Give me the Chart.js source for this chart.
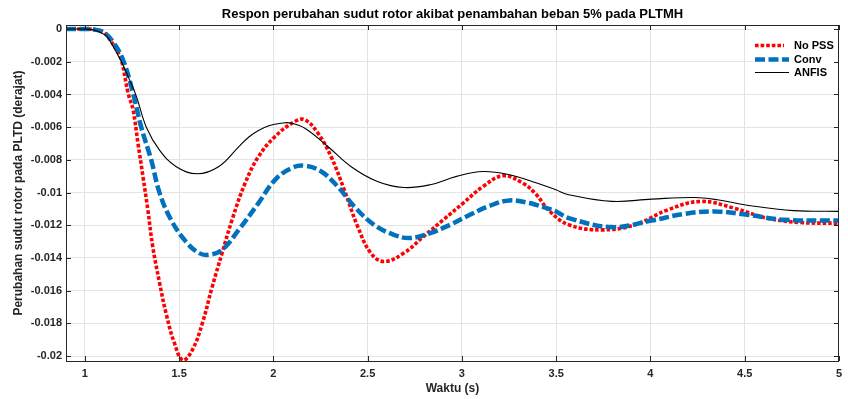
<!DOCTYPE html>
<html>
<head>
<meta charset="utf-8">
<script src="https://cdn.jsdelivr.net/npm/chart.js@4/dist/chart.umd.min.js"></script>
<style>
  html, body { margin: 0; padding: 0; background: #ffffff; }
  #wrap { width: 848px; height: 399px; position: relative; }
</style>
</head>
<body>
<div id="wrap"><canvas id="c" width="848" height="399"></canvas></div>
<script>
// ---------- data ----------
const titleText = 'Respon perubahan sudut rotor akibat penambahan beban 5% pada PLTMH';
const xLabel = 'Waktu (s)';
const yLabel = 'Perubahan sudut rotor pada PLTD (derajat)';
const seriesNames = ['No PSS', 'Conv', 'ANFIS'];

const xTickValues = [1, 1.5, 2, 2.5, 3, 3.5, 4, 4.5, 5];
const yTickValues = [0, -0.002, -0.004, -0.006, -0.008, -0.01, -0.012, -0.014, -0.016, -0.018, -0.02];

const noPssT = [0.9, 1.0, 1.05, 1.1, 1.133, 1.168, 1.194, 1.229, 1.255, 1.282, 1.308, 1.334, 1.36, 1.396, 1.431, 1.475, 1.52, 1.571, 1.623, 1.676, 1.728, 1.781, 1.851, 1.921, 2.009, 2.114, 2.167, 2.236, 2.306, 2.376, 2.447, 2.517, 2.587, 2.692, 2.797, 2.902, 3.007, 3.112, 3.218, 3.323, 3.393, 3.462, 3.567, 3.743, 3.918, 4.093, 4.268, 4.443, 4.618, 4.794, 5.0];
const noPssY = [0, 0, -0.00003, -0.0002, -0.00065, -0.00127, -0.0019, -0.0039, -0.0049, -0.007, -0.009, -0.01105, -0.0133, -0.0155, -0.0174, -0.0192, -0.02025, -0.0196, -0.018, -0.01574, -0.0137, -0.01166, -0.0094, -0.0078, -0.00657, -0.00565, -0.00555, -0.00636, -0.0078, -0.00983, -0.01207, -0.0137, -0.01421, -0.0137, -0.01268, -0.01166, -0.01064, -0.00963, -0.00897, -0.00942, -0.0101, -0.0111, -0.01197, -0.01228, -0.01197, -0.01105, -0.01054, -0.01095, -0.01156, -0.01183, -0.01187];

const convT = [0.9, 1.0, 1.05, 1.1, 1.15, 1.203, 1.255, 1.299, 1.352, 1.396, 1.457, 1.536, 1.606, 1.66, 1.728, 1.816, 1.921, 2.009, 2.096, 2.167, 2.254, 2.341, 2.429, 2.534, 2.639, 2.727, 2.832, 2.937, 3.042, 3.147, 3.252, 3.357, 3.393, 3.498, 3.567, 3.795, 4.006, 4.181, 4.339, 4.514, 4.707, 5.0];
const convY = [0, 0, -0.00003, -0.0002, -0.0008, -0.0019, -0.0039, -0.006, -0.008, -0.01, -0.01166, -0.013, -0.0137, -0.0138, -0.0135, -0.01228, -0.01064, -0.00922, -0.0085, -0.00836, -0.00871, -0.00963, -0.01085, -0.01197, -0.01258, -0.01278, -0.01248, -0.01197, -0.01136, -0.01081, -0.01048, -0.01064, -0.01075, -0.01115, -0.01156, -0.01211, -0.01171, -0.0113, -0.01115, -0.01136, -0.01166, -0.01171];

const anfisT = [0.9, 1.0, 1.045, 1.081, 1.116, 1.15, 1.194, 1.233, 1.273, 1.326, 1.396, 1.483, 1.597, 1.711, 1.816, 1.87, 1.921, 1.98, 2.04, 2.09, 2.167, 2.289, 2.411, 2.552, 2.692, 2.832, 2.972, 3.112, 3.252, 3.393, 3.498, 3.567, 3.795, 4.006, 4.233, 4.356, 4.531, 4.759, 5.0];
const anfisY = [0, 0, -0.00005, -0.0002, -0.00045, -0.00106, -0.002, -0.003, -0.0041, -0.006, -0.0074, -0.0084, -0.00885, -0.0084, -0.0072, -0.0066, -0.0062, -0.0059, -0.00576, -0.00574, -0.00606, -0.00718, -0.0084, -0.00932, -0.00969, -0.00952, -0.00901, -0.00871, -0.00891, -0.0094, -0.00983, -0.01013, -0.01054, -0.0104, -0.0103, -0.01044, -0.0108, -0.0111, -0.01115];

// ---------- build ----------
const toPts = (t, y) => t.map((v, i) => ({ x: v, y: y[i] }));
const FONT = "'Liberation Sans', Arial, Helvetica, sans-serif";
const TXT = '#262626';

const styles = [
  { color: '#ff0000', width: 3.6, dash: [3.6, 2] },
  { color: '#0072bd', width: 4.5, dash: [10, 3.5] },
  { color: '#000000', width: 1.1, dash: [] }
];

const decorPlugin = {
  id: 'decor',
  afterDatasetsDraw(chart) {
    const ctx = chart.ctx;
    const a = chart.chartArea;
    const xs = chart.scales.x, ys = chart.scales.y;
    ctx.save();
    // legend (white box, no border)
    ctx.fillStyle = '#ffffff';
    ctx.fillRect(752.5, a.top + 1, a.right - 752.5 - 2, 60);
    const rows = [45, 59, 72];
    for (let i = 0; i < 3; i++) {
      const s = styles[i];
      ctx.beginPath();
      ctx.strokeStyle = s.color;
      ctx.lineWidth = s.width;
      ctx.lineCap = 'butt';
      ctx.setLineDash(s.dash);
      ctx.moveTo(755, rows[i] + 0.5);
      ctx.lineTo(i === 0 ? 784 : 789, rows[i] + 0.5);
      ctx.stroke();
      ctx.setLineDash([]);
      ctx.fillStyle = '#000000';
      ctx.font = 'bold 11px ' + FONT;
      ctx.textAlign = 'left';
      ctx.textBaseline = 'middle';
      ctx.fillText(seriesNames[i], 794, rows[i] + 0.5);
    }
    // box
    ctx.strokeStyle = TXT;
    ctx.lineWidth = 1;
    ctx.strokeRect(Math.round(a.left) + 0.5, Math.round(a.top) + 0.5, Math.round(a.right - a.left) - 1, Math.round(a.bottom - a.top));
    // inward ticks
    const tl = 5;
    ctx.beginPath();
    xTickValues.forEach(v => {
      const px = Math.round(xs.getPixelForValue(v)) + 0.5;
      ctx.moveTo(px, a.bottom); ctx.lineTo(px, a.bottom - tl);
      ctx.moveTo(px, a.top); ctx.lineTo(px, a.top + tl);
    });
    yTickValues.forEach(v => {
      const py = Math.round(ys.getPixelForValue(v)) + 0.5;
      ctx.moveTo(a.left, py); ctx.lineTo(a.left + tl, py);
      ctx.moveTo(a.right, py); ctx.lineTo(a.right - tl, py);
    });
    ctx.stroke();
    // titles
    ctx.fillStyle = '#000000';
    ctx.font = 'bold 13px ' + FONT;
    ctx.textAlign = 'center';
    ctx.textBaseline = 'middle';
    ctx.fillText(titleText, (a.left + a.right) / 2, 14);
    ctx.fillStyle = TXT;
    ctx.font = 'bold 12px ' + FONT;
    ctx.fillText(xLabel, (a.left + a.right) / 2, 389);
    ctx.translate(19, (a.top + a.bottom) / 2);
    ctx.rotate(-Math.PI / 2);
    ctx.fillText(yLabel, 0, 0);
    ctx.restore();
  }
};

const fmt = v => String(Number(v.toFixed(4)));

new Chart(document.getElementById('c'), {
  type: 'line',
  data: {
    datasets: [
      { label: seriesNames[0], data: toPts(noPssT, noPssY), order: 3 },
      { label: seriesNames[1], data: toPts(convT, convY), order: 2 },
      { label: seriesNames[2], data: toPts(anfisT, anfisY), order: 1 }
    ].map((d, i) => Object.assign(d, {
      borderColor: styles[i].color,
      borderWidth: styles[i].width,
      borderDash: styles[i].dash,
      borderCapStyle: 'butt',
      pointRadius: 0,
      fill: false,
      tension: 0.4
    }))
  },
  options: {
    responsive: false,
    animation: false,
    devicePixelRatio: 1,
    layout: { padding: { top: 25, right: 2, left: 0, bottom: 0 } },
    plugins: { legend: { display: false }, title: { display: false }, tooltip: { enabled: false } },
    scales: {
      x: {
        type: 'linear', min: 0.9, max: 5,
        afterBuildTicks: s => { s.ticks = xTickValues.map(v => ({ value: v })); },
        afterFit: s => { s.height = 38; },
        grid: { color: '#e3e3e3', lineWidth: 1, drawTicks: false },
        border: { display: false },
        ticks: { padding: 6, color: TXT, font: { family: FONT, size: 11, weight: 'bold' }, callback: v => fmt(v), maxRotation: 0, autoSkip: false }
      },
      y: {
        type: 'linear', min: -0.0203, max: 0.00025,
        afterBuildTicks: s => { s.ticks = yTickValues.map(v => ({ value: v })); },
        afterFit: s => { s.width = 66; },
        grid: { color: '#e3e3e3', lineWidth: 1, drawTicks: false },
        border: { display: false },
        ticks: { padding: 4, color: TXT, font: { family: FONT, size: 11, weight: 'bold' }, callback: v => fmt(v), autoSkip: false }
      }
    }
  },
  plugins: [decorPlugin]
});
</script>
</body>
</html>
